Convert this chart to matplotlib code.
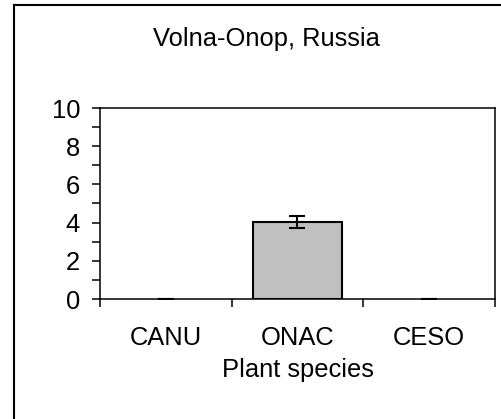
import matplotlib
matplotlib.use("Agg")
import matplotlib.pyplot as plt
from matplotlib.lines import Line2D
import matplotlib.transforms as mtransforms

categories = ["CANU", "ONAC", "CESO"]
values = [0.0, 4.05, 0.0]
errors = [0.0, 0.31, 0.0]
yticks = [0, 2, 4, 6, 8, 10]
title = "Volna-Onop, Russia"
xlabel = "Plant species"

W, H = 501, 419
FS = 18.4
plt.rcParams['font.family'] = ['Liberation Sans', 'DejaVu Sans']
fig = plt.figure(figsize=(W / 100, H / 100), dpi=100)

def fx(px):
    return px / W

def fy(py):
    return 1 - py / H

ax = fig.add_axes([fx(100), fy(299), fx(495) - fx(100), fy(108) - fy(299)])
x = list(range(len(categories)))
lws = [1.5 if v > 0 else 0 for v in values]
ax.bar(x, values, width=0.67, color="#c0c0c0", edgecolor="black", linewidth=lws, zorder=2)
ax.errorbar(x, values, yerr=errors, fmt="none", ecolor="black", elinewidth=1.5,
            capsize=6, capthick=1.5, zorder=3)

ax.set_xlim(-0.5, len(categories) - 0.5)
ax.set_ylim(0, 10)
ax.set_yticks(yticks)
ax.set_yticklabels([str(v) for v in yticks], fontsize=FS)
ax.set_yticks(range(1, 10, 2), minor=True)
ax.tick_params(axis="y", which="both", direction="out", length=5.8, width=1.1, pad=8.6)
ax.set_xticks([i - 0.5 for i in range(len(categories) + 1)])
ax.set_xticklabels([])
ax.tick_params(axis="x", which="both", direction="out", length=5.5, width=1.1)
for s in ax.spines.values():
    s.set_linewidth(1.1)

trans = mtransforms.blended_transform_factory(ax.transData, fig.transFigure)
for i, c in enumerate(categories):
    ax.text(i, fy(345), c, transform=trans, ha="center", va="baseline", fontsize=FS)
ax.text(1, fy(377), xlabel, transform=trans, ha="center", va="baseline", fontsize=FS)

fig.text(fx(266), fy(46), title, ha="center", va="baseline", fontsize=FS)

# outer chart frame (left and top edges visible)
fig.add_artist(Line2D([fx(14), fx(14)], [fy(5), 0], transform=fig.transFigure, color="black", lw=1.5))
fig.add_artist(Line2D([fx(14), 1], [fy(5), fy(5)], transform=fig.transFigure, color="black", lw=1.5))

fig.savefig("out.png", dpi=100)
